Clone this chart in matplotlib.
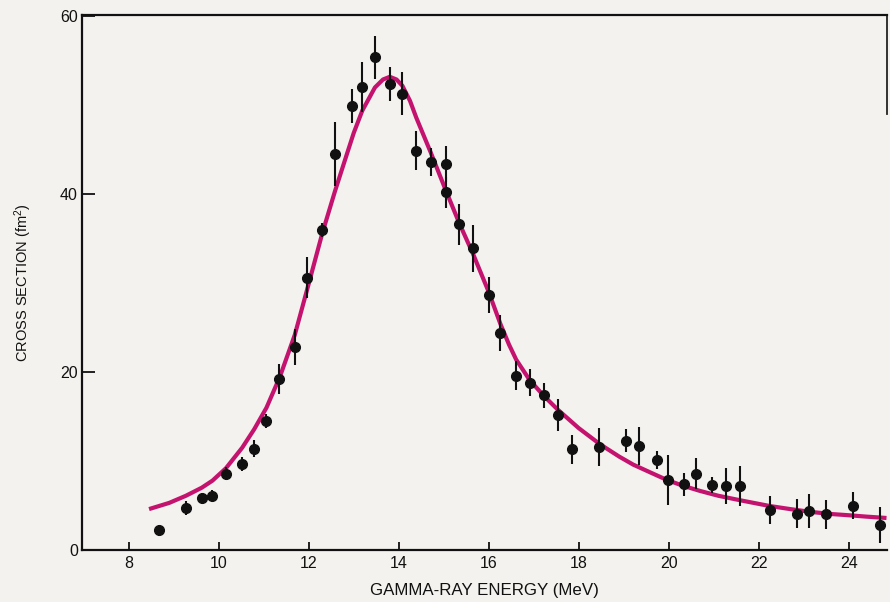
import matplotlib
matplotlib.use("Agg")
import matplotlib.pyplot as plt

# ---- data ----
energy = [8.68, 9.27, 9.62, 9.86, 10.15, 10.52, 10.79, 11.06, 11.34, 11.69,
          11.97, 12.30, 12.58, 12.95, 13.19, 13.47, 13.80, 14.08, 14.39, 14.71,
          15.04, 15.05, 15.34, 15.65, 16.00, 16.26, 16.61, 16.91, 17.23, 17.53,
          17.86, 18.46, 19.06, 19.34, 19.73, 19.98, 20.34, 20.61, 20.97, 21.28,
          21.58, 22.24, 22.84, 23.12, 23.49, 24.10, 24.69]
cross = [2.2, 4.7, 5.8, 6.1, 8.6, 9.7, 11.4, 14.5, 19.2, 22.8,
         30.6, 36.0, 44.5, 49.9, 52.1, 55.4, 52.4, 51.3, 44.9, 43.6,
         43.4, 40.2, 36.6, 33.9, 28.7, 24.4, 19.6, 18.8, 17.4, 15.2,
         11.3, 11.6, 12.3, 11.7, 10.1, 7.9, 7.4, 8.6, 7.3, 7.2,
         7.2, 4.5, 4.1, 4.4, 4.0, 5.0, 2.8]
error = [0.6, 0.8, 0.6, 0.6, 0.7, 0.8, 1.0, 0.8, 1.7, 2.0,
         2.3, 0.8, 3.6, 1.9, 2.8, 2.4, 1.9, 2.4, 2.2, 1.6,
         2.0, 1.7, 2.3, 2.6, 2.0, 2.0, 1.6, 1.5, 1.4, 1.8,
         1.6, 2.1, 1.3, 2.1, 1.0, 2.8, 1.3, 1.7, 0.9, 2.0,
         2.2, 1.6, 1.6, 1.9, 1.6, 1.5, 2.0]

# fitted curve
fit_energy = [8.45, 8.90, 9.27, 9.62, 9.86, 10.16, 10.52, 10.79, 11.06,
              11.36, 11.69, 11.97, 12.30, 12.58, 12.84, 13.00, 13.19, 13.47, 13.65,
              13.80, 13.95, 14.08, 14.25, 14.39, 14.71, 15.04, 15.34, 15.65, 16.00,
              16.26, 16.45, 16.61, 16.91, 17.23, 17.53, 18.00, 18.47, 18.90, 19.21,
              19.60, 19.95, 20.30, 20.69, 21.10, 21.58, 22.24, 22.70, 23.13, 23.60,
              24.02, 24.40, 24.84]
fit_cross = [4.6, 5.3, 6.1, 7.0, 7.8, 9.2, 11.5, 13.6, 16.0,
             19.5, 24.2, 29.4, 35.6, 40.3, 44.4, 46.9, 49.4, 52.0, 52.9,
             53.2, 52.9, 52.2, 50.5, 48.6, 44.7, 40.5, 36.8, 33.3, 29.0,
             25.4, 23.1, 21.4, 19.1, 17.3, 15.8, 13.7, 11.9, 10.5, 9.6,
             8.7, 7.9, 7.25, 6.65, 6.1, 5.6, 4.95, 4.6, 4.3, 4.05,
             3.9, 3.75, 3.6]

x_ticks = [8, 10, 12, 14, 16, 18, 20, 22, 24]
y_ticks = [0, 20, 40, 60]

plt.rcParams['font.family'] = ['Liberation Sans', 'DejaVu Sans']
plt.rcParams['mathtext.fontset'] = 'custom'
plt.rcParams['mathtext.rm'] = 'Liberation Sans'
plt.rcParams['mathtext.it'] = 'Liberation Sans'

bg = '#f3f2ee'
fig = plt.figure(figsize=(8.9, 6.02), dpi=100, facecolor=bg)
ax = fig.add_axes([82/890, 1 - 550/602, (886.5 - 82)/890, (550 - 15)/602])
ax.set_facecolor(bg)

ax.plot(fit_energy, fit_cross, color='#c4126f', lw=3.0, zorder=2,
        solid_joinstyle='round', solid_capstyle='butt')
ax.errorbar(energy, cross, yerr=error, fmt='o', color='#111111', ms=7,
            elinewidth=1.5, capsize=0, zorder=3)

ax.set_xlim(6.96, 24.84)
ax.set_ylim(0, 60.15)
ax.set_xticks(x_ticks)
ax.set_yticks(y_ticks)
ax.tick_params(axis='x', direction='in', length=6, width=1.3, pad=4,
               labelsize=11.5, colors='#111111')
ax.tick_params(axis='y', direction='in', length=9, width=1.3, pad=3,
               labelsize=11.5, colors='#111111')

for s in ['left', 'bottom', 'top']:
    ax.spines[s].set_linewidth(1.6)
    ax.spines[s].set_color('#111111')
ax.spines['right'].set_visible(False)
ax.plot([1, 1], [1, 0.815], transform=ax.transAxes, color='#222222',
        lw=1.3, clip_on=False)

ax.set_xlabel('GAMMA-RAY ENERGY (MeV)', fontsize=12.2, color='#111111',
              labelpad=9)
ax.set_ylabel('CROSS SECTION (fm$^2$)', fontsize=10.5, color='#111111',
              labelpad=19)

fig.savefig('out.png', dpi=100, facecolor=bg)
